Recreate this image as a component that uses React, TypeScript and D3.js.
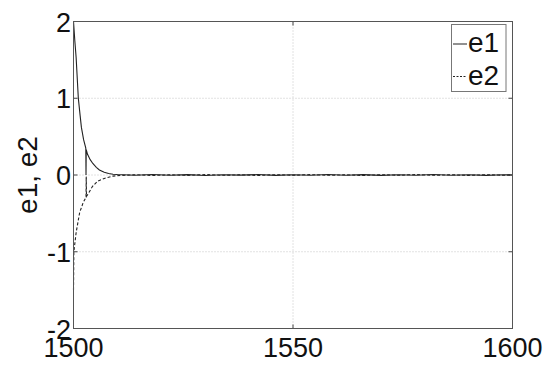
import React from "react";
import * as d3 from "d3";

const xTicks = [1500, 1550, 1600];
const yTicks = [-2, -1, 0, 1, 2];

const tail = [1510, 1514, 1518, 1522, 1526, 1530, 1534, 1538, 1542, 1546, 1550, 1554, 1558, 1562, 1566, 1570, 1574, 1578, 1582, 1586, 1590, 1594, 1598, 1600];
const e1Tail = [0.006, -0.004, 0.007, -0.003, 0.005, -0.006, 0.004, -0.002, 0.006, -0.005, 0.003, -0.004, 0.006, -0.003, 0.005, -0.005, 0.004, -0.003, 0.006, -0.004, 0.003, -0.005, 0.004, 0.0];
const e2Tail = [-0.008, 0.004, -0.006, 0.003, -0.005, 0.006, -0.004, 0.003, -0.006, 0.004, -0.003, 0.005, -0.004, 0.003, -0.006, 0.004, -0.003, 0.005, -0.004, 0.003, -0.005, 0.004, -0.003, 0.0];

const e1Head = [1500, 1500.3, 1500.6, 1501.1, 1501.5, 1501.8, 1502.3, 1502.8, 1502.85, 1502.9, 1503.2, 1503.8, 1504.4, 1505.2, 1505.9, 1507, 1508, 1509];
const e1HeadV = [2.0, 1.75, 1.53, 1.0, 0.78, 0.62, 0.46, 0.35, 0.0, 0.33, 0.27, 0.2, 0.15, 0.1, 0.065, 0.035, 0.02, 0.01];

const e2Head = [1500, 1500.08, 1500.6, 1501.4, 1502.2, 1502.85, 1502.9, 1502.95, 1503.5, 1504.3, 1505.5, 1507, 1508, 1509];
const e2HeadV = [-1.5, -1.0, -0.75, -0.49, -0.36, -0.29, -0.02, -0.28, -0.23, -0.15, -0.08, -0.045, -0.03, -0.015];

const W = 555, H = 365;
const L = 73.5, R = 512.5, T = 21.5, B = 328.5;
const FONT = "'Liberation Sans', Arial, Helvetica, sans-serif";

export default function App() {
  const x = d3.scaleLinear().domain([1500, 1600]).range([L, R]);
  const y = d3.scaleLinear().domain([-2, 2]).range([B, T]);
  const line = d3.line<[number, number]>().x(d => x(d[0])).y(d => y(d[1]));
  const e1: [number, number][] = [
    ...e1Head.map((t, i) => [t, e1HeadV[i]] as [number, number]),
    ...tail.map((t, i) => [t, e1Tail[i]] as [number, number]),
  ];
  const e2: [number, number][] = [
    ...e2Head.map((t, i) => [t, e2HeadV[i]] as [number, number]),
    ...tail.map((t, i) => [t, e2Tail[i]] as [number, number]),
  ];
  return (
    <svg width={W} height={H} style={{ position: "absolute", left: 0, top: 0, background: "#fff" }} fontFamily={FONT}>
      <rect x={0} y={0} width={W} height={H} fill="#fff" />
      {/* grid */}
      {yTicks.filter(v => v !== 2 && v !== -2).map(v => (
        <line key={"gy" + v} x1={L} x2={R} y1={y(v)} y2={y(v)} stroke="#c4c4c4" strokeWidth={1} strokeDasharray="1,2" />
      ))}
      {xTicks.filter(v => v !== 1500 && v !== 1600).map(v => (
        <line key={"gx" + v} x1={x(v)} x2={x(v)} y1={T} y2={B} stroke="#c4c4c4" strokeWidth={1} strokeDasharray="1,2" />
      ))}
      {/* ticks */}
      {xTicks.map(v => (
        <g key={"tx" + v}>
          <line x1={x(v)} x2={x(v)} y1={B} y2={B - 4} stroke="#444" />
          <line x1={x(v)} x2={x(v)} y1={T} y2={T + 4} stroke="#444" />
          <text x={x(v)} y={357} textAnchor="middle" fontSize={27} fill="#111">{v}</text>
        </g>
      ))}
      {yTicks.map(v => (
        <g key={"ty" + v}>
          <line x1={L} x2={L + 4} y1={y(v)} y2={y(v)} stroke="#444" />
          <line x1={R} x2={R - 4} y1={y(v)} y2={y(v)} stroke="#444" />
          <text x={71} y={y(v) + 10} textAnchor="end" fontSize={27} fill="#111">{v}</text>
        </g>
      ))}
      {/* series */}
      <path d={line(e1) || ""} fill="none" stroke="#222" strokeWidth={1.1} />
      <path d={line(e2) || ""} fill="none" stroke="#222" strokeWidth={1.1} strokeDasharray="3,2" />
      {/* frame */}
      <rect x={L} y={T} width={R - L} height={B - T} fill="none" stroke="#555" strokeWidth={1} />
      {/* legend */}
      <rect x={451.5} y={24.5} width={54.5} height={67} fill="#fff" stroke="#777" strokeWidth={1} />
      <line x1={453} x2={467} y1={44} y2={44} stroke="#222" strokeWidth={1} />
      <text x={468} y={52} fontSize={28} fill="#111">e1</text>
      <line x1={453} x2={467} y1={76.5} y2={76.5} stroke="#222" strokeWidth={1} strokeDasharray="2,1.5" />
      <text x={468} y={84.5} fontSize={28} fill="#111">e2</text>
      {/* y label */}
      <text transform={`translate(37,${(T + B) / 2}) rotate(-90)`} textAnchor="middle" fontSize={28} fill="#111">e1, e2</text>
    </svg>
  );
}
